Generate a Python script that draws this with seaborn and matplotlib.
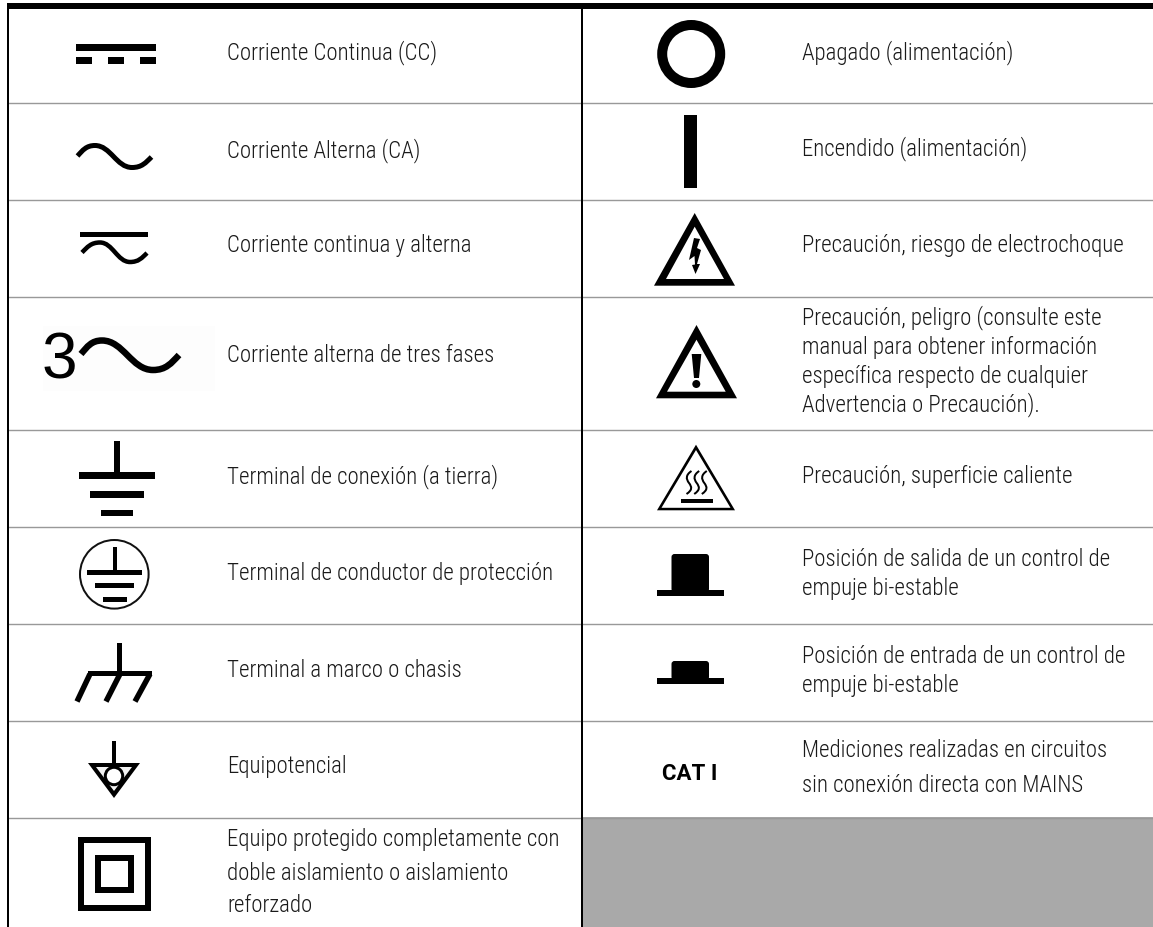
import matplotlib
matplotlib.use("Agg")
import matplotlib.pyplot as plt
from matplotlib.font_manager import FontProperties as FP
from matplotlib.patches import Rectangle, Circle, Polygon, PathPatch, FancyBboxPatch
from matplotlib.path import Path
import seaborn as sns

# ---- content ----
left_labels = [
    ["Corriente Continua (CC)"],
    ["Corriente Alterna (CA)"],
    ["Corriente continua y alterna"],
    ["Corriente alterna de tres fases"],
    ["Terminal de conexión (a tierra)"],
    ["Terminal de conductor de protección"],
    ["Terminal a marco o chasis"],
    ["Equipotencial"],
    ["Equipo protegido completamente con", "doble aislamiento o aislamiento", "reforzado"],
]
right_labels = [
    ["Apagado (alimentación)"],
    ["Encendido (alimentación)"],
    ["Precaución, riesgo de electrochoque"],
    ["Precaución, peligro (consulte este", "manual para obtener información",
     "específica respecto de cualquier", "Advertencia o Precaución)."],
    ["Precaución, superficie caliente"],
    ["Posición de salida de un control de", "empuje bi-estable"],
    ["Posición de entrada de un control de", "empuje bi-estable"],
    ["Mediciones realizadas en circuitos", "sin conexión directa con MAINS"],
]
three_phase_digit = "3"
category_label = "CAT I"

# ---- layout (pixel space) ----
W, H = 1153, 928
row_rules = [103.5, 200.5, 297.5, 430.5, 527.5, 624.5, 721.5, 818.5]
left_base = [[59], [157], [252], [362], [483], [580], [677], [773], [846, 880, 912]]
right_base = [[59], [155], [252], [324, 354, 383, 411], [483], [566, 595], [663, 692], [757, 792]]
LEFT_X, RIGHT_X = 227, 802

sns.set_theme(style="white")
fig = plt.figure(figsize=(W / 100, H / 100), dpi=100)
ax = fig.add_axes([0, 0, 1, 1])
ax.set_axis_off()
INK = "#000000"
PX = 72 / 100


def rect(x0, y0, x1, y1, color=INK, z=3):
    ax.add_patch(Rectangle((x0, y0), x1 - x0, y1 - y0, fc=color, ec="none", lw=0, zorder=z))


def poly(pts, color=INK, z=3):
    ax.add_patch(Polygon(pts, closed=True, fc=color, ec="none", lw=0, zorder=z))


def stroke(pts, width, join="miter"):
    ax.add_patch(PathPatch(Path(pts), fc="none", ec=INK, lw=width * PX, capstyle="butt",
                           joinstyle=join, zorder=3))


def wave(s, p, t, e, width):
    d1, d2, d3 = p[0] - s[0], t[0] - p[0], e[0] - t[0]
    v = [s,
         (s[0] + .3 * d1, s[1] + .55 * (p[1] - s[1])), (p[0] - .5 * d1, p[1]), p,
         (p[0] + .42 * d2, p[1]), (t[0] - .42 * d2, t[1]), t,
         (t[0] + .5 * d3, t[1]), (e[0] - .3 * d3, e[1] + .55 * (t[1] - e[1])), e]
    c = [Path.MOVETO] + [Path.CURVE4] * 9
    ax.add_patch(PathPatch(Path(v, c), fc="none", ec=INK, lw=width * PX, capstyle="butt", zorder=3))


# ---- table frame ----
rect(583, 818, W, H, color="#a9a9a9", z=1)
for y in row_rules:
    sns.lineplot(x=[7, W], y=[y, y], ax=ax, color="#999999", linewidth=1.4 * PX,
                 estimator=None, legend=False, zorder=2, solid_capstyle="butt")
rect(7, 4, W, 9.5)
rect(7, 4, 9, H)
rect(581.3, 4, 583.2, H)

# ---- left column symbols ----
# DC
rect(76, 45, 156, 52)
for x0 in (76, 108, 140):
    rect(x0, 58, x0 + 16, 65)
# AC
wave((77.5, 157), (95, 146.5), (132, 168.5), (151.5, 158), 5)
# AC + DC
rect(80, 233, 148, 238)
wave((82, 253.5), (100, 243.5), (130, 263), (147, 254), 4.5)
# three phase
rect(43, 327, 215, 392, color="#fdfdfd", z=1)
ax.text(59.5, 378.5, three_phase_digit, ha="center", va="baseline", color=INK,
        fontproperties=FP(family="Liberation Sans", size=46))
wave((81, 355), (102, 341.5), (153, 371), (179, 356), 6.5)
# earth
rect(114, 442, 120, 476)
rect(79, 473, 155, 479.5)
rect(90, 492, 144, 499)
rect(101, 511, 133, 517)
# protective earth
ax.add_patch(Circle((114.3, 575.3), 34.3, fc="none", ec="#111111", lw=2 * PX, zorder=3))
rect(112.7, 548, 116.7, 572)
rect(87, 571, 142, 575.5)
rect(95, 584, 134, 589)
rect(103, 598, 127, 603)
# chassis
rect(117, 644, 122, 675)
rect(88, 672, 152, 677)
for xt, xb in ((90, 77), (120, 106), (150, 135)):
    stroke([(xt, 675), (xb, 702.5)], 5.5)
# equipotential
rect(112, 742, 116, 766)
poly([(88, 764), (140, 764), (114, 799)])
poly([(96, 768), (132, 768), (114, 792)], color="#f2f2f2", z=4)
ax.add_patch(Circle((114, 777), 8.7, fc="white", ec=INK, lw=3 * PX, zorder=5))
# double insulation
rect(78, 838, 151, 912)
rect(84, 844, 145, 906, color="white", z=4)
rect(95, 856, 133.5, 894, z=5)
rect(101, 862, 127.5, 888, color="white", z=6)

# ---- right column symbols ----
# off / on
ax.add_patch(Circle((691.2, 55), 29, fc="none", ec=INK, lw=10 * PX, zorder=3))
rect(684, 116, 697, 189)
# electric shock
poly([(694.7, 214), (735, 286.7), (654, 286.7)])
poly([(694.7, 227.7), (724, 280), (666, 280)], color="white", z=4)
poly([(694, 239), (700, 240), (697, 249), (701, 251), (697, 265), (700, 265), (695.5, 275),
      (692, 266), (695, 265.5), (694.5, 257), (689, 261)], z=5)
# warning
poly([(696.5, 326), (737, 399.3), (656, 399.3)])
poly([(696.5, 340.7), (725.7, 392.7), (667, 392.7)], color="white", z=4)
poly([(691.7, 355), (701.3, 355), (699, 379), (694, 379)], z=5)
ax.add_patch(Circle((696.3, 385), 4, fc=INK, ec="none", zorder=5))
# hot surface
poly([(696, 445.7), (735, 511.3), (657, 511.3)])
poly([(696, 451), (730.5, 508.8), (661.5, 508.8)], color="white", z=4)
rect(681, 500, 713, 504, z=5)
for xc in (689, 696.7, 704.3):
    v = [(xc + 2.5, 472), (xc - 3.5, 476), (xc - 3, 480), (xc, 484),
         (xc + 3, 488), (xc + 3.5, 491), (xc - 2.5, 495)]
    ax.add_patch(PathPatch(Path(v, [Path.MOVETO] + [Path.CURVE4] * 6), fc="none", ec=INK,
                           lw=2 * PX, capstyle="butt", zorder=5))
# push buttons
for top, joint, bottom in ((555, 591, 597), (662, 679, 685)):
    ax.add_patch(FancyBboxPatch((671.5, top), 37.5, joint - top + 2,
                                boxstyle="round,pad=0,rounding_size=3", fc=INK, ec="none", lw=0, zorder=3))
    rect(657, joint, 724, bottom)
# category
ax.text(690, 780, category_label, ha="center", va="baseline", color=INK,
        fontproperties=FP(family="Roboto", weight=700, size=16))

# ---- descriptions ----
body = FP(family=["Roboto Condensed", "Open Sans"], weight=300, stretch="condensed", size=16.5)
for x, labels, bases in ((LEFT_X, left_labels, left_base), (RIGHT_X, right_labels, right_base)):
    for lines, ys in zip(labels, bases):
        for line, y in zip(lines, ys):
            ax.text(x, y, line, ha="left", va="baseline", color="#1a1a1a", fontproperties=body, zorder=6)

ax.set_xlim(0, W)
ax.set_ylim(H, 0)
fig.savefig("out.png", dpi=100, facecolor="white")
